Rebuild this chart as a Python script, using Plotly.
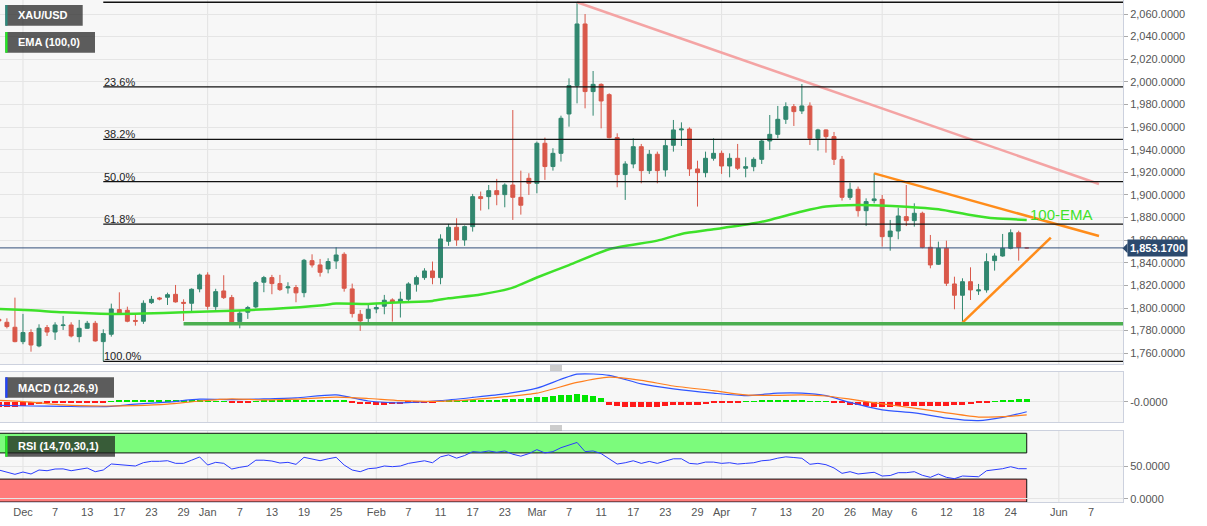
import plotly.graph_objects as go
import pandas as pd

# ---------------- categories ----------------
dates = [d.strftime("%Y-%m-%d") for d in pd.bdate_range("2021-11-26", "2022-05-26")
         if d.strftime("%Y-%m-%d") != "2022-04-15"]
future_dates = [d.strftime("%Y-%m-%d") for d in pd.bdate_range("2022-05-27", "2022-06-20")]
all_dates = dates + future_dates

# ---------------- XAU/USD daily OHLC ----------------
opens = [1790.0, 1787.4, 1783.0, 1770.3, 1778.3, 1766.5, 1782.7, 1778.8, 1784.5, 1785.0,
         1774.7, 1782.1, 1786.5, 1770.3, 1776.8, 1798.6, 1798.0, 1789.0, 1788.3, 1804.8,
         1808.9, 1809.5, 1812.1, 1805.0, 1804.2, 1816.9, 1829.2, 1801.2, 1815.1, 1809.2,
         1788.0, 1796.3, 1801.0, 1822.8, 1826.9, 1821.6, 1817.8, 1818.1, 1813.6, 1841.9,
         1838.1, 1834.6, 1841.6, 1847.5, 1816.9, 1794.5, 1790.9, 1799.2, 1801.6, 1807.2,
         1804.8, 1807.8, 1821.0, 1826.9, 1832.8, 1826.9, 1859.0, 1871.4, 1860.2, 1872.0,
         1898.5, 1898.5, 1903.8, 1900.3, 1908.8, 1897.9, 1914.7, 1910.3, 1945.7, 1925.1,
         1936.8, 1971.6, 1996.7, 2051.2, 1991.4, 1997.8, 1988.7, 1950.7, 1918.0, 1927.4,
         1942.7, 1921.5, 1936.0, 1922.1, 1943.9, 1957.5, 1958.3, 1923.0, 1919.7, 1932.4,
         1936.8, 1925.6, 1932.4, 1923.6, 1925.0, 1931.5, 1947.7, 1953.6, 1966.9, 1978.1,
         1974.3, 1978.7, 1950.1, 1957.5, 1951.6, 1931.5, 1897.9, 1905.0, 1886.1, 1895.0,
         1896.1, 1863.1, 1868.1, 1880.8, 1877.3, 1883.8, 1853.7, 1838.7, 1852.8, 1821.3,
         1811.3, 1823.3, 1815.1, 1816.0, 1841.9, 1846.0, 1852.8, 1866.6, 1853.17]
highs = [1814.5, 1790.9, 1809.2, 1794.8, 1781.2, 1785.6, 1785.0, 1787.4, 1793.0, 1787.4,
         1789.5, 1788.6, 1788.6, 1781.2, 1803.9, 1813.9, 1801.2, 1794.5, 1806.8, 1810.7,
         1809.8, 1813.6, 1820.4, 1807.7, 1817.4, 1830.4, 1831.6, 1817.0, 1829.0, 1811.6,
         1797.7, 1801.9, 1824.0, 1828.4, 1829.3, 1829.3, 1822.8, 1820.4, 1843.4, 1847.5,
         1843.4, 1844.0, 1853.7, 1849.3, 1821.6, 1798.3, 1802.7, 1804.2, 1811.6, 1808.6,
         1814.5, 1822.8, 1828.7, 1835.2, 1841.1, 1865.2, 1874.4, 1879.4, 1873.0, 1900.9,
         1903.0, 1908.8, 1914.2, 1910.3, 1975.1, 1921.5, 1919.2, 1947.2, 1950.7, 1941.3,
         1970.1, 2003.1, 2070.4, 2060.0, 2009.6, 1998.7, 1989.9, 1954.5, 1929.8, 1950.1,
         1945.1, 1939.8, 1938.3, 1948.6, 1966.3, 1964.2, 1959.8, 1930.3, 1938.3, 1950.1,
         1939.2, 1936.8, 1945.1, 1933.3, 1933.3, 1949.2, 1970.7, 1978.7, 1981.9, 1980.4,
         1998.1, 1981.9, 1958.5, 1958.0, 1955.7, 1934.5, 1910.9, 1907.4, 1897.0, 1919.1,
         1900.0, 1877.9, 1888.8, 1908.8, 1892.6, 1885.2, 1864.6, 1858.7, 1859.6, 1827.7,
         1826.3, 1836.0, 1821.3, 1848.4, 1848.4, 1865.5, 1869.6, 1868.4, 1853.9]
lows = [1782.0, 1782.0, 1769.7, 1768.0, 1761.4, 1765.3, 1775.3, 1771.8, 1780.6, 1774.0,
        1769.7, 1781.8, 1770.3, 1752.9, 1774.7, 1793.9, 1787.4, 1784.4, 1786.0, 1803.6,
        1806.8, 1802.7, 1804.8, 1788.6, 1796.2, 1813.9, 1798.6, 1798.3, 1808.0, 1787.1,
        1782.1, 1790.4, 1799.8, 1814.0, 1812.2, 1815.1, 1812.8, 1805.1, 1809.5, 1835.8,
        1827.8, 1830.7, 1834.6, 1814.5, 1791.6, 1779.8, 1787.4, 1795.4, 1794.5, 1788.0,
        1791.6, 1806.3, 1814.5, 1824.9, 1821.0, 1821.0, 1855.0, 1855.0, 1855.0, 1867.6,
        1886.2, 1887.3, 1890.9, 1889.1, 1877.9, 1882.6, 1900.0, 1901.5, 1913.3, 1921.5,
        1929.5, 1960.4, 1981.0, 1976.6, 1970.1, 1958.9, 1950.0, 1906.8, 1895.6, 1923.6,
        1910.3, 1918.6, 1910.3, 1916.2, 1938.3, 1943.3, 1916.8, 1889.7, 1915.6, 1930.3,
        1918.6, 1915.6, 1922.1, 1915.6, 1920.9, 1927.4, 1939.8, 1950.1, 1962.8, 1961.0,
        1971.6, 1944.2, 1939.2, 1937.4, 1926.5, 1895.0, 1895.6, 1880.8, 1872.6, 1892.6,
        1854.3, 1850.7, 1860.8, 1872.5, 1872.0, 1852.8, 1835.1, 1838.1, 1819.5, 1798.9,
        1787.1, 1807.1, 1811.6, 1813.6, 1833.1, 1845.4, 1851.9, 1841.9, 1852.6]
closes = [1788.6, 1783.6, 1770.3, 1778.3, 1767.3, 1782.1, 1778.8, 1785.0, 1785.0, 1775.3,
          1782.1, 1786.5, 1770.9, 1777.4, 1799.2, 1795.1, 1788.3, 1788.3, 1804.2, 1807.7,
          1808.0, 1811.8, 1805.4, 1804.2, 1816.6, 1829.2, 1801.5, 1814.5, 1809.2, 1787.7,
          1795.4, 1800.4, 1822.5, 1826.9, 1821.6, 1816.3, 1818.7, 1813.4, 1842.2, 1838.1,
          1831.6, 1841.1, 1846.9, 1817.5, 1795.1, 1788.6, 1798.9, 1800.4, 1806.9, 1805.1,
          1807.8, 1821.3, 1826.9, 1832.8, 1826.9, 1861.1, 1871.4, 1860.2, 1872.0, 1898.5,
          1896.8, 1903.8, 1900.3, 1908.8, 1897.9, 1890.9, 1910.3, 1945.7, 1925.1, 1936.8,
          1967.8, 1996.7, 2051.2, 1991.4, 1997.8, 1983.1, 1950.7, 1918.0, 1927.4, 1942.7,
          1921.5, 1936.0, 1921.5, 1943.6, 1957.5, 1958.3, 1923.0, 1919.7, 1932.4, 1936.8,
          1925.6, 1932.4, 1923.6, 1925.0, 1931.5, 1947.7, 1953.6, 1966.9, 1978.1, 1973.7,
          1978.7, 1950.1, 1957.5, 1951.6, 1931.5, 1897.9, 1905.0, 1886.1, 1894.1, 1896.5,
          1863.1, 1868.1, 1881.4, 1877.3, 1883.8, 1853.7, 1838.1, 1852.8, 1821.9, 1811.3,
          1823.3, 1816.0, 1816.0, 1841.0, 1846.0, 1852.8, 1866.6, 1853.7, 1853.17]

# ---------------- EMA(100) ----------------
ema_dates = ["2021-11-26", "2021-12-02", "2021-12-08", "2021-12-16", "2021-12-22", "2021-12-29",
             "2022-01-06", "2022-01-13", "2022-01-21", "2022-01-25", "2022-01-31", "2022-02-04",
             "2022-02-10", "2022-02-14", "2022-02-18", "2022-02-24", "2022-03-01", "2022-03-07",
             "2022-03-14", "2022-03-22", "2022-03-25", "2022-03-31", "2022-04-07", "2022-04-11",
             "2022-04-18", "2022-04-21", "2022-04-27", "2022-05-05", "2022-05-11", "2022-05-17",
             "2022-05-20", "2022-05-26"]
ema_values = [1799.2, 1798.0, 1796.2, 1794.8, 1795.1, 1796.2, 1797.6, 1799.2, 1802.2, 1803.9,
              1803.6, 1805.1, 1806.3, 1808.6, 1812.0, 1818.0, 1827.0, 1838.0, 1852.0, 1859.6,
              1865.5, 1869.6, 1874.9, 1877.9, 1885.3, 1889.7, 1891.1, 1889.6, 1887.3, 1882.3,
              1879.3, 1877.9]

# ---------------- Fibonacci retracement ----------------
fib_start = "2021-12-15"
fib_levels = [2070.4, 1995.5, 1949.1, 1911.7, 1874.2, 1752.9]
fib_labels = ["", "23.6%", "38.2%", "50.0%", "61.8%", "100.0%"]

# ---------------- drawings ----------------
support_start = "2021-12-29"
support_level = 1786.0
pink_dates = ["2022-03-08", "2022-06-08"]
pink_prices = [2070.4, 1909.7]
upper_orange_dates = ["2022-04-29", "2022-06-08"]
upper_orange_prices = [1919.1, 1863.7]
lower_orange_dates = ["2022-05-16", "2022-05-31"]
lower_orange_prices = [1787.1, 1862.2]
last_price = 1853.17

# ---------------- MACD (12,26,9) ----------------
macd_hist = [-7, -7, -7, -6, -5,
             -3, -2, -2, -2, -1.5, -1.5, -1.5, -1.5, -1,
             1, 1.5, 2, 2, 3, 3, 3, 3, 2, 2, 2, 2,
             1, 1, 1,
             -1, -1, -1,
             1, 1.5, 1.5, 1.5, 2, 2, 2, 2, 3, 3, 3, 2,
             -2, -3, -3.5, -4, -4, -3.5, -3,
             -2, -1.5, -1, -0.5, 1, 1.5, 1.5, 2,
             2.5, 3, 3, 3, 3.5, 4, 4, 5, 6,
             7, 8, 9, 10, 11, 10, 8, 5,
             -4, -6, -7, -8, -8, -8, -7, -6, -5, -4, -4, -4,
             -3, -2, -2, -1, -1,
             1, 1, 1.5, 2, 3, 3, 3, 2, 1, 1, 0.5,
             -0.8, -2, -4, -5, -6, -7, -7, -7, -6.5, -6, -5.5, -5.5, -5.5, -5.5, -5.5, -5, -4.5,
             -3, -1.5, -0.8, 0.8, 2, 3, 4, 4]
macd_dates = ["2021-11-26", "2021-12-02", "2021-12-08", "2021-12-15", "2021-12-21", "2021-12-27",
              "2021-12-31", "2022-01-06", "2022-01-12", "2022-01-18", "2022-01-25", "2022-01-31",
              "2022-02-04", "2022-02-11", "2022-02-17", "2022-02-23", "2022-03-01", "2022-03-08",
              "2022-03-14", "2022-03-18", "2022-03-24", "2022-03-31", "2022-04-06", "2022-04-12",
              "2022-04-18", "2022-04-21", "2022-04-26", "2022-05-02", "2022-05-06", "2022-05-12",
              "2022-05-18", "2022-05-23", "2022-05-26"]
macd_line = [-5, -6, -6.5, -7, -3.5, -0.5, 3.5, 3, 4, 5.5, 9.5, 1, -1.5, 1.5, 6, 11, 19, 38.5,
             37, 25, 18, 12, 8.5, 12, 12, 8.5, -1, -11.5, -15.5, -23, -26.5, -22, -14]
signal_line = [2, -0.5, -4.5, -6, -5.5, -3.5, 1, 4, 2.5, 3.5, 6.5, 4.5, 1.5, 0.5, 3, 7, 12, 27,
               34.5, 30, 22, 15.5, 9.5, 9, 9.5, 8, 3.5, -3, -9, -15.5, -21.5, -21, -18.5]

# ---------------- RSI (14) ----------------
rsi_values = [43.9, 40.5, 37.3, 40.8, 37.8, 43.9, 42.8, 45.4, 45.6, 42.8,
              45.4, 46.9, 41.3, 43.9, 53.1, 52.1, 50.0, 50.0, 55.1, 57.2,
              57.2, 58.1, 54.1, 54.1, 58.9, 63.8, 51.5, 55.6, 54.1, 45.4,
              48.0, 49.9, 58.9, 58.9, 57.6, 54.6, 55.6, 52.5, 63.3, 61.0,
              58.1, 61.0, 63.3, 51.5, 43.9, 41.3, 45.9, 46.9, 50.0, 49.0,
              50.0, 54.0, 56.0, 58.0, 55.0, 64.0, 67.0, 62.0, 66.0, 72.0,
              71.0, 73.0, 71.0, 73.0, 68.0, 65.0, 69.0, 75.0, 70.0, 72.0,
              78.0, 82.0, 86.0, 72.0, 73.0, 69.0, 61.0, 53.0, 55.0, 58.0,
              54.0, 57.0, 54.0, 58.0, 61.0, 61.0, 54.0, 53.0, 56.0, 56.0,
              54.0, 55.0, 53.0, 54.0, 55.0, 58.0, 59.0, 62.0, 64.0, 63.0,
              61.8, 52.6, 54.1, 52.0, 47.0, 38.8, 41.3, 37.8, 39.0, 40.4,
              34.7, 35.5, 39.8, 39.8, 41.3, 35.8, 32.7, 37.8, 32.7, 30.6,
              34.7, 33.6, 33.6, 42.8, 43.9, 45.9, 48.9, 45.9, 45.9]

# ---------------- axis labels ----------------
tick_dates = ["2021-12-01", "2021-12-07", "2021-12-13", "2021-12-17", "2021-12-23", "2021-12-29",
              "2022-01-03", "2022-01-07", "2022-01-13", "2022-01-19", "2022-01-25",
              "2022-02-01", "2022-02-07", "2022-02-11", "2022-02-17", "2022-02-23",
              "2022-03-01", "2022-03-07", "2022-03-11", "2022-03-17", "2022-03-23", "2022-03-29",
              "2022-04-01", "2022-04-07", "2022-04-13", "2022-04-20", "2022-04-26",
              "2022-05-02", "2022-05-06", "2022-05-12", "2022-05-18", "2022-05-24",
              "2022-06-01", "2022-06-07"]
tick_text = ["Dec", "7", "13", "17", "23", "29", "Jan", "7", "13", "19", "25",
             "Feb", "7", "11", "17", "23", "Mar", "7", "11", "17", "23", "29",
             "Apr", "7", "13", "20", "26", "May", "6", "12", "18", "24", "Jun", "7"]
month_starts = ["2021-12-01", "2022-01-03", "2022-02-01", "2022-03-01", "2022-04-01",
                "2022-05-02", "2022-06-01"]

assert len(opens) == len(highs) == len(lows) == len(closes) == len(dates) == len(rsi_values) == len(macd_hist)

# ---------------- helpers ----------------
def P(d):
    return all_dates.index(d)

xs = list(range(len(dates)))
W, H = 1207, 526
ML, MR, MT, MB = 0, 84, 0, 24
PW, PH = W - ML - MR, H - MT - MB
X_RANGE = [0.14, 139.99]

def fx(px):
    return px / PW

def fy(py):
    return (PH - py) / PH

FONT = "Liberation Sans, Arial, sans-serif"
GREEN_C = "#31876f"
RED_C = "#d9584a"
EMA_C = "#3ee12a"

fig = go.Figure()

fig.add_trace(go.Candlestick(
    x=xs, open=opens, high=highs, low=lows, close=closes,
    increasing=dict(line=dict(color=GREEN_C, width=1), fillcolor=GREEN_C),
    decreasing=dict(line=dict(color=RED_C, width=1), fillcolor=RED_C),
    whiskerwidth=0, showlegend=False, xaxis="x", yaxis="y"))

fig.add_trace(go.Scatter(x=[P(d) for d in ema_dates], y=ema_values, mode="lines",
                         line=dict(color=EMA_C, width=2.5, shape="spline", smoothing=0.6),
                         showlegend=False, xaxis="x", yaxis="y"))

for dd, pp, col in [(pink_dates, pink_prices, "#f4a4a4"),
                    (upper_orange_dates, upper_orange_prices, "#ff8c1a"),
                    (lower_orange_dates, lower_orange_prices, "#ff8c1a")]:
    fig.add_trace(go.Scatter(x=[P(d) for d in dd], y=pp, mode="lines",
                             line=dict(color=col, width=2.5), showlegend=False,
                             xaxis="x", yaxis="y"))

# MACD
hist_colors = ["#00e600" if v >= 0 else "#ff1a1a" for v in macd_hist]
fig.add_trace(go.Bar(x=xs, y=macd_hist, marker=dict(color=hist_colors, line=dict(width=0)),
                     width=0.75, showlegend=False, xaxis="x2", yaxis="y2"))
fig.add_trace(go.Scatter(x=[P(d) for d in macd_dates], y=macd_line, mode="lines",
                         line=dict(color="#2f55ff", width=1.2, shape="spline", smoothing=0.6),
                         showlegend=False, xaxis="x2", yaxis="y2"))
fig.add_trace(go.Scatter(x=[P(d) for d in macd_dates], y=signal_line, mode="lines",
                         line=dict(color="#ff7f1e", width=1.2, shape="spline", smoothing=0.6),
                         showlegend=False, xaxis="x2", yaxis="y2"))

# RSI
fig.add_trace(go.Scatter(x=xs, y=rsi_values, mode="lines",
                         line=dict(color="#2a3cff", width=1),
                         showlegend=False, xaxis="x3", yaxis="y3"))

shapes = []
# vertical month gridlines
for d in month_starts:
    for yr in ["y domain", "y2 domain", "y3 domain"]:
        xr = {"y domain": "x", "y2 domain": "x2", "y3 domain": "x3"}[yr]
        shapes.append(dict(type="line", xref=xr, yref=yr, x0=P(d), x1=P(d), y0=0, y1=1,
                           line=dict(color="#e2e2e2", width=1), layer="below"))
# RSI bands
last_pos = xs[-1]
shapes.append(dict(type="rect", xref="x3", yref="y3", x0=X_RANGE[0] - 1, x1=last_pos,
                   y0=70, y1=100, fillcolor="#7cfb7c", line=dict(color="#111", width=1),
                   layer="below"))
shapes.append(dict(type="rect", xref="x3", yref="y3", x0=X_RANGE[0] - 1, x1=last_pos,
                   y0=-5, y1=30, fillcolor="#ff7b7b", line=dict(color="#111", width=1),
                   layer="below"))
# Fibonacci lines
for lv in fib_levels:
    shapes.append(dict(type="line", xref="x", yref="y", x0=P(fib_start), x1=X_RANGE[1] + 2,
                       y0=lv, y1=lv, line=dict(color="#111111", width=1.3)))
# support line
shapes.append(dict(type="line", xref="x", yref="y", x0=P(support_start), x1=X_RANGE[1] + 2,
                   y0=support_level, y1=support_level, line=dict(color="#4caf50", width=3.5)))
# last price line
shapes.append(dict(type="line", xref="paper", yref="y", x0=0, x1=1, y0=last_price, y1=last_price,
                   line=dict(color="#34507a", width=1)))
# price tag arrow
ypx = 248.3
shapes.append(dict(type="path", xref="paper", yref="paper",
                   path=f"M {fx(1122.5)},{fy(ypx)} L {fx(1127.5)},{fy(ypx-5)} L {fx(1127.5)},{fy(ypx+5)} Z",
                   fillcolor="#2c4a6e", line=dict(width=0)))
# indicator boxes
boxes = [(5.3, 82.7, 5, 25.7, "#2b8c7e", "XAU/USD", "rgba(40,40,40,0.75)"),
         (5.3, 95, 32, 52.7, "#22ee22", "EMA (100,0)", "rgba(40,40,40,0.75)"),
         (5.3, 114, 377.3, 397.7, "#2244ff", "MACD (12,26,9)", "rgba(40,40,40,0.75)"),
         (5.3, 115, 436, 456.7, "#22ee22", "RSI (14,70,30,1)", "rgba(30,30,30,0.72)")]
annotations = []
for x0, x1, y0, y1, stripe, txt, bg in boxes:
    shapes.append(dict(type="rect", xref="paper", yref="paper", x0=fx(x0), x1=fx(x1),
                       y0=fy(y1), y1=fy(y0), fillcolor=bg, line=dict(width=0)))
    shapes.append(dict(type="rect", xref="paper", yref="paper", x0=fx(x0), x1=fx(x0 + 2.2),
                       y0=fy(y1), y1=fy(y0), fillcolor=stripe, line=dict(width=0)))
    annotations.append(dict(xref="paper", yref="paper", x=fx(15.5), y=fy((y0 + y1) / 2),
                            xanchor="left", yanchor="middle", showarrow=False,
                            text=f"<b>{txt}</b>", font=dict(family=FONT, size=11, color="white")))
# panel drag handles
for yc in [368, 428]:
    for dy in (-2, 0, 2):
        shapes.append(dict(type="line", xref="paper", yref="paper", x0=fx(550), x1=fx(562),
                           y0=fy(yc + dy), y1=fy(yc + dy), line=dict(color="#9a9a9a", width=1)))

# fib labels
for lv, lb in zip(fib_levels, fib_labels):
    if lb:
        annotations.append(dict(xref="x", yref="y", x=P(fib_start), y=lv, xanchor="left",
                                yanchor="bottom", yshift=-3, xshift=-1, showarrow=False, text=lb,
                                font=dict(family=FONT, size=11, color="#222")))
# EMA label
annotations.append(dict(xref="x", yref="y", x=P("2022-05-26") + 0.2, y=1882.3, xanchor="left",
                        yanchor="middle", showarrow=False, text="100-EMA",
                        font=dict(family=FONT, size=15, color=EMA_C)))
# last price tag
annotations.append(dict(xref="paper", yref="y", x=1, y=last_price, xanchor="left", xshift=4,
                        yanchor="middle", showarrow=False, text="<b>1,853.1700</b>",
                        bgcolor="#2c4a6e", borderpad=2,
                        font=dict(family=FONT, size=11, color="white")))

AX_LINE = "#ccd1de"
TICKFONT = dict(family=FONT, size=11, color="#555")
common_y = dict(side="right", ticks="outside", ticklen=4, tickcolor="#aaa", tickfont=TICKFONT,
                showline=True, linecolor=AX_LINE, mirror=True, gridcolor="#e5e5e5",
                zeroline=False, fixedrange=True)
common_x = dict(range=X_RANGE, showgrid=False, showline=True, linecolor=AX_LINE, mirror=True,
                zeroline=False)

fig.update_layout(
    width=W, height=H,
    margin=dict(l=ML, r=MR, t=MT, b=MB, pad=0),
    paper_bgcolor="white", plot_bgcolor="#f7f7f7",
    showlegend=False, bargap=0,
    font=dict(family=FONT),
    xaxis=dict(domain=[0, 1], anchor="y", showticklabels=False, rangeslider=dict(visible=False),
               **common_x),
    xaxis2=dict(domain=[0, 1], anchor="y2", matches="x", showticklabels=False, **common_x),
    xaxis3=dict(domain=[0, 1], anchor="y3", matches="x", tickmode="array",
                tickvals=[P(d) for d in tick_dates], ticktext=tick_text, ticks="",
                tickfont=TICKFONT, **common_x),
    yaxis=dict(domain=[fy(364), 1], anchor="x", range=[1750.5, 2072.4],
               tickmode="array", tickvals=list(range(1760, 2061, 20)), tickformat=",.4f",
               **common_y),
    yaxis2=dict(domain=[fy(422), fy(372)], anchor="x2", range=[-28.4, 41.6],
                tickmode="array", tickvals=[0], ticktext=["-0.0000"], **common_y),
    yaxis3=dict(domain=[0, fy(431)], anchor="x3", range=[-5.0, 103.5],
                tickmode="array", tickvals=[0, 50], tickformat=",.4f", **common_y),
    shapes=shapes,
    annotations=annotations,
)

fig.write_html("out.html", config={"displayModeBar": False},
               post_script="document.body.style.margin='0';document.body.style.overflow='hidden';")
